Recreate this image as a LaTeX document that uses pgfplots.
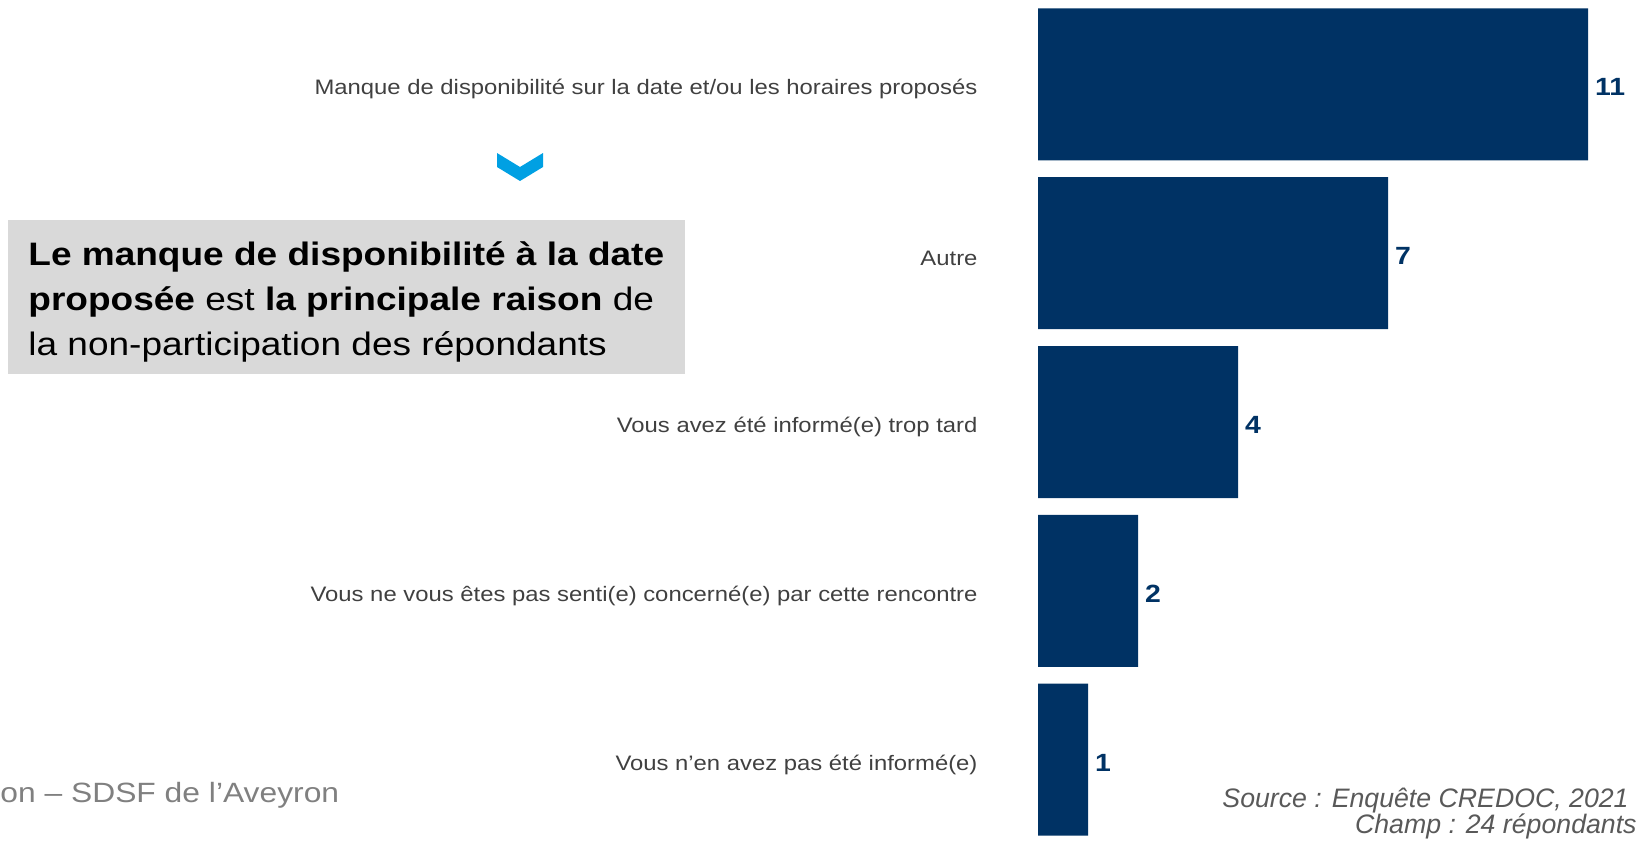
\documentclass[border=0pt]{standalone}
\usepackage{pgfplots}
\pgfplotsset{compat=1.18}
\usepackage{fontspec}
\setmainfont[FakeStretch=1.14]{Liberation Sans}
\newfontfamily\srcfont{Liberation Sans}
\definecolor{navy}{HTML}{003264}
\definecolor{chev}{HTML}{00A0E3}
\definecolor{boxgray}{HTML}{D9D9D9}
\definecolor{labgray}{HTML}{404040}
\definecolor{footgray}{HTML}{808080}
\definecolor{srcgray}{HTML}{595959}

\begin{document}
\begin{tikzpicture}[x=1bp,y=1bp]
\path[use as bounding box] (0,0) rectangle (819,422);

% encadre gris
\fill[boxgray] (4,235) rectangle (342.5,312);
\begin{scope}[every node/.style={anchor=base west, inner sep=0, font=\fontsize{16.3}{20}\selectfont}]
\node at (14,289.5) {\textbf{Le manque de disponibilité à la date}};
\node at (14,267) {\textbf{proposée} est \textbf{la principale raison} de};
\node at (14,244.5) {la non-participation des répondants};
\end{scope}

% chevron
\fill[chev] (248.5,345.5) -- (260,338.5) -- (271.5,345.5) -- (271.5,338.5) -- (260,331.5) -- (248.5,338.5) -- cycle;

% pied de page
\node[anchor=base west, inner sep=0, text=footgray, font=\fontsize{14}{16}\selectfont] at (0,21) {on -- SDSF de l’Aveyron};
\node[anchor=base east, inner sep=0, text=srcgray, font=\srcfont\itshape\fontsize{13.4}{15}\selectfont] at (814.5,18.5) {Source : Enquête CREDOC, 2021};
\node[anchor=base east, inner sep=0, text=srcgray, font=\srcfont\itshape\fontsize{13.4}{15}\selectfont] at (818.5,5.5) {Champ : 24 répondants};

\begin{axis}[
    at={(519bp,0bp)}, anchor=south west,
    scale only axis, width=300bp, height=422bp,
    xmin=0, xmax=12, ymin=-0.5, ymax=4.5,
    y dir=reverse,
    xbar, bar width=76bp, bar shift=0pt,
    hide x axis,
    axis y line*=left,
    y axis line style={draw=none},
    ytick={0,1,2,3,4},
    yticklabels={
        Manque de disponibilité sur la date et/ou les horaires proposés,
        Autre,
        Vous avez été informé(e) trop tard,
        Vous ne vous êtes pas senti(e) concerné(e) par cette rencontre,
        Vous n’en avez pas été informé(e)},
    ytick style={draw=none},
    yticklabel style={font=\fontsize{10.5}{12}\selectfont, text=labgray, xshift=-22.5bp, yshift=-2.5bp},
    nodes near coords,
    nodes near coords style={font=\bfseries\fontsize{12.5}{14}\selectfont, text=navy,
        /pgf/number format/assume math mode=true, yshift=-1.5bp},
    clip=false,
]
\addplot[fill=navy, draw=none] coordinates {(11,0) (7,1) (4,2) (2,3) (1,4)};
\end{axis}
\end{tikzpicture}
\end{document}
